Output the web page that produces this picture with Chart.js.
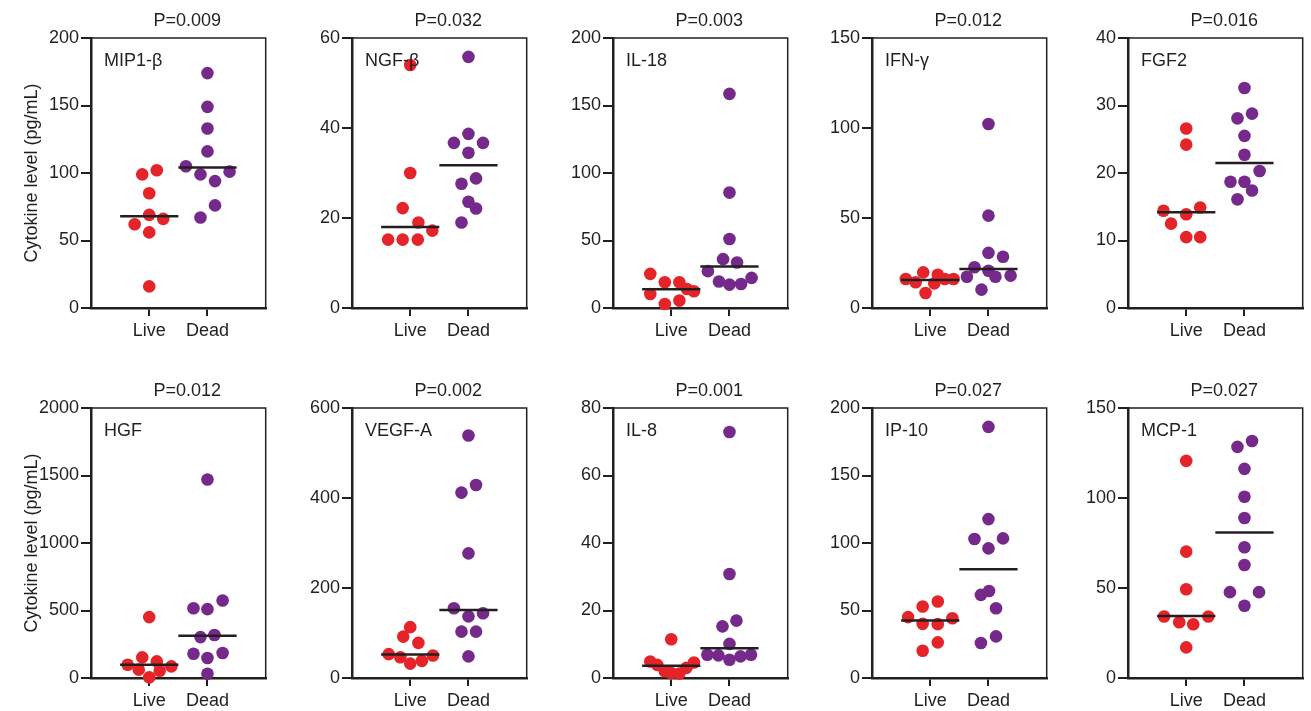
<!DOCTYPE html>
<html>
<head>
<meta charset="utf-8">
<title>Cytokine levels, live vs dead</title>
<script src="https://cdn.jsdelivr.net/npm/chart.js@4.4.1/dist/chart.umd.min.js"></script>
<style>
  html, body { margin: 0; padding: 0; background: #fff; overflow: hidden; }
  body { width: 1311px; height: 711px; position: relative; }
  .panel { position: absolute; }
</style>
</head>
<body>
<script>
// ---- data ----
const groups = ['Live', 'Dead'];
const cytokines = ['MIP1-β', 'NGF-β', 'IL-18', 'IFN-γ', 'FGF2', 'HGF', 'VEGF-A', 'IL-8', 'IP-10', 'MCP-1'];
const pValues = ['P=0.009', 'P=0.032', 'P=0.003', 'P=0.012', 'P=0.016', 'P=0.012', 'P=0.002', 'P=0.001', 'P=0.027', 'P=0.027'];
const yMaxes = [200, 60, 200, 150, 40, 2000, 600, 80, 200, 150];
const ySteps = [50, 20, 50, 50, 10, 500, 200, 20, 50, 50];

const liveValues = [
  [99, 102, 85, 69, 62, 66, 56, 16],
  [54, 30, 22.2, 19, 17.2, 15.2, 15.2, 15.2],
  [25.3, 19.1, 19.1, 10.4, 14.1, 12.4, 3.0, 5.5],
  [19.8, 18.5, 16.1, 14.3, 16.1, 16.1, 13.7, 8.3],
  [26.6, 24.2, 14.4, 14.9, 13.9, 12.5, 10.5, 10.5],
  [451, 153, 123, 98, 86, 62, 54, 5],
  [113, 92, 78, 53, 50, 46, 38, 32],
  [11.5, 4.9, 3.9, 4.6, 3.0, 2.0, 1.5, 1.3],
  [56.7, 53.0, 45.1, 44.3, 40.1, 39.9, 26.4, 20.2],
  [120.6, 70.2, 49.3, 34.2, 34.2, 31.0, 29.9, 17.0]
];
// horizontal scatter of each point around its group (category units)
const liveJitter = [
  [-0.12, 0.13, 0, 0, -0.25, 0.24, 0, 0],
  [0, 0, -0.13, 0.14, 0.38, -0.38, -0.13, 0.13],
  [-0.36, -0.11, 0.14, -0.36, 0.27, 0.39, -0.11, 0.14],
  [-0.12, 0.13, -0.42, -0.25, 0.25, 0.40, 0.07, -0.08],
  [0, 0, -0.39, 0.24, 0, -0.26, 0, 0.24],
  [0, -0.12, 0.13, -0.37, 0.38, -0.18, 0.18, 0],
  [0, -0.12, 0.14, -0.37, 0.39, -0.17, 0.2, 0],
  [0, -0.36, -0.24, 0.39, 0.26, -0.11, 0, 0.14],
  [0.13, -0.13, -0.38, 0.38, -0.13, 0.13, 0.13, -0.13],
  [0, 0, 0, -0.38, 0.38, -0.12, 0.12, 0]
];
const deadValues = [
  [174, 149, 133, 116, 105, 99, 94, 101, 76, 67],
  [55.8, 38.7, 36.7, 36.7, 34.5, 28.8, 27.6, 23.6, 22.1, 19],
  [158.6, 85.5, 51.1, 36.2, 33.7, 27.3, 22.3, 19.6, 17.3, 17.8],
  [102.2, 51.3, 30.6, 28.5, 22.6, 20.7, 17.4, 17.4, 18.0, 10.2],
  [32.6, 28.1, 28.8, 25.5, 22.7, 20.3, 18.7, 18.7, 17.4, 16.1],
  [1470, 574, 517, 510, 303, 318, 180, 185, 148, 32],
  [539, 412, 429, 277, 155, 144, 137, 103, 103, 48],
  [72.9, 30.8, 15.3, 17.0, 10.1, 6.9, 6.7, 5.4, 6.4, 6.9],
  [186, 117.7, 103, 103.4, 96, 61.6, 64.5, 51.7, 30.8, 25.9],
  [131.7, 128.4, 116.2, 100.7, 88.9, 72.6, 62.8, 47.7, 47.7, 40.1]
];
const deadJitter = [
  [0, 0, 0, 0, -0.37, -0.12, 0.13, 0.38, 0.13, -0.12],
  [0, 0, -0.25, 0.25, 0, 0.13, -0.12, 0, 0.13, -0.12],
  [0, 0, 0, -0.11, 0.13, -0.37, 0.38, -0.18, 0, 0.2],
  [0, 0, 0, 0.25, -0.24, 0, -0.37, 0.12, 0.38, -0.12],
  [0, -0.12, 0.13, 0, 0, 0.26, -0.24, 0, 0.13, -0.12],
  [0, 0.26, -0.24, 0, -0.12, 0.12, -0.24, 0.26, 0, 0],
  [0, -0.12, 0.13, 0, -0.25, 0.25, 0, -0.12, 0.13, 0],
  [0, 0, -0.12, 0.12, 0, -0.38, -0.19, 0, 0.19, 0.37],
  [0, 0, -0.24, 0.25, 0, -0.13, 0.01, 0.13, 0.13, -0.13],
  [0.13, -0.12, 0, 0, 0, 0, 0, -0.25, 0.25, 0]
];
const liveMedians = [68, 18.0, 13.9, 15.6, 14.2, 98, 52, 3.6, 42.6, 34.5];
const deadMedians = [104, 31.7, 30.7, 21.7, 21.5, 313, 151, 8.8, 80.5, 80.9];

// ---- layout ----
const plotLefts = [91, 352, 613, 872, 1128];
const rowTops = [0, 370];
const PLOT_W = 178, PLOT_H = 270, TOP_PAD = 38, X_AXIS_H = 34;
const Y_AXIS_W = 70, FIRST_Y_AXIS_W = 91;
const INK = '#231f20';
const RED = '#e5242a';
const PURPLE = '#74298b';

Chart.defaults.font.family = '"Liberation Sans", Arial, Helvetica, sans-serif';
Chart.defaults.font.size = 18;
Chart.defaults.color = INK;

// box top/right edge, p-value above, cytokine name inside
const panelDecor = {
  id: 'panelDecor',
  afterDatasetsDraw(chart, args, opts) {
    const { ctx, chartArea: a } = chart;
    ctx.save();
    ctx.strokeStyle = INK;
    ctx.lineWidth = 1.5;
    ctx.beginPath();
    ctx.moveTo(a.left, a.top);
    ctx.lineTo(a.right, a.top);
    ctx.lineTo(a.right, a.bottom);
    ctx.stroke();
    ctx.fillStyle = INK;
    ctx.font = '18px "Liberation Sans", Arial, sans-serif';
    ctx.textBaseline = 'middle';
    ctx.textAlign = 'left';
    ctx.fillText(opts.name, a.left + 13, a.top + 23);
    ctx.textAlign = 'center';
    ctx.fillText(opts.pText, (a.left + a.right) / 2 + 9, a.top - 17);
    ctx.restore();
  }
};

function pointsFor(values, jitter, center) {
  return values.map((v, k) => ({ x: center + jitter[k], y: v }));
}

function medianLine(m, center) {
  return [{ x: center - 0.5, y: m }, { x: center + 0.5, y: m }];
}

for (let i = 0; i < cytokines.length; i++) {
  const row = Math.floor(i / 5);
  const col = i % 5;
  const axisW = col === 0 ? FIRST_Y_AXIS_W : Y_AXIS_W;

  const canvas = document.createElement('canvas');
  canvas.className = 'panel';
  canvas.width = axisW + PLOT_W + 3;
  canvas.height = TOP_PAD + PLOT_H + X_AXIS_H;
  canvas.style.left = (plotLefts[col] - axisW) + 'px';
  canvas.style.top = rowTops[row] + 'px';
  document.body.appendChild(canvas);

  new Chart(canvas, {
    type: 'scatter',
    data: {
      datasets: [
        {
          data: medianLine(liveMedians[i], 0),
          showLine: true, borderColor: INK, borderWidth: 2.5, pointRadius: 0
        },
        {
          data: medianLine(deadMedians[i], 1),
          showLine: true, borderColor: INK, borderWidth: 2.5, pointRadius: 0
        },
        {
          label: groups[0],
          data: pointsFor(liveValues[i], liveJitter[i], 0),
          backgroundColor: RED, borderWidth: 0, pointRadius: 6.3, clip: false
        },
        {
          label: groups[1],
          data: pointsFor(deadValues[i], deadJitter[i], 1),
          backgroundColor: PURPLE, borderWidth: 0, pointRadius: 6.3, clip: false
        }
      ]
    },
    options: {
      responsive: false,
      animation: false,
      devicePixelRatio: 1,
      layout: { padding: { top: TOP_PAD, right: 3, left: 0, bottom: 0 } },
      plugins: {
        legend: { display: false },
        tooltip: { enabled: false },
        panelDecor: { name: cytokines[i], pText: pValues[i] }
      },
      scales: {
        x: {
          type: 'linear',
          min: -1,
          max: 2,
          afterBuildTicks: (scale) => { scale.ticks = [{ value: 0 }, { value: 1 }]; },
          afterFit: (scale) => { scale.height = X_AXIS_H; },
          ticks: {
            callback: (v) => groups[v],
            padding: 4,
            color: INK,
            maxRotation: 0
          },
          grid: { drawOnChartArea: false, drawTicks: true, tickLength: 8, color: INK, lineWidth: 2 },
          border: { color: INK, width: 2.5 }
        },
        y: {
          min: 0,
          max: yMaxes[i],
          afterFit: (scale) => { scale.width = axisW; },
          ticks: {
            stepSize: ySteps[i],
            callback: (v) => String(v),
            padding: 2,
            color: INK
          },
          grid: { drawOnChartArea: false, drawTicks: true, tickLength: 10, color: INK, lineWidth: 2 },
          border: { color: INK, width: 2.5 },
          title: {
            display: col === 0,
            text: 'Cytokine level (pg/mL)',
            color: INK,
            font: { size: 18 },
            padding: { top: 21, bottom: 0 }
          }
        }
      }
    },
    plugins: [panelDecor]
  });
}
</script>
</body>
</html>
